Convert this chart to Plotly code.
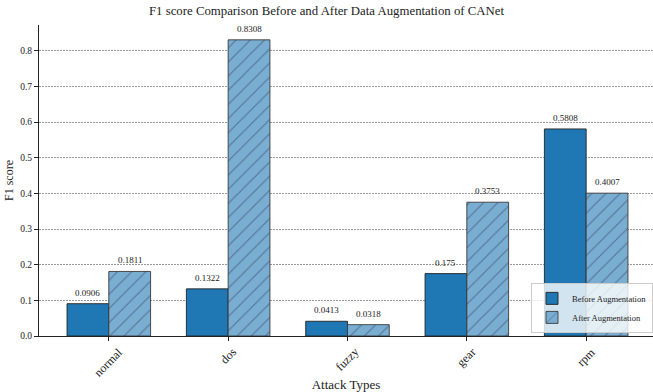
import plotly.graph_objects as go

attack_types = ["normal", "dos", "fuzzy", "gear", "rpm"]
f1_before = [0.0906, 0.1322, 0.0413, 0.175, 0.5808]
f1_after = [0.1811, 0.8308, 0.0318, 0.3753, 0.4007]

FONT = "Liberation Serif, Times New Roman, serif"
x_idx = list(range(len(attack_types)))
w = 0.35
x_before = [i - w / 2 for i in x_idx]
x_after = [i + w / 2 for i in x_idx]

fig = go.Figure()
fig.add_trace(go.Bar(
    x=x_before, y=f1_before, width=w,
    name="Before Augmentation",
    marker=dict(color="#1f77b4", line=dict(color="#222222", width=0.9)),
))
fig.add_trace(go.Bar(
    x=x_after, y=f1_after, width=w,
    name="After Augmentation",
    marker=dict(color="#79add2", line=dict(color="#3a3a3a", width=0.9),
                pattern=dict(shape="/", fgcolor="#2a3550", size=10, solidity=0.1)),
))

# value labels above each bar
annotations = []
for xs, ys in ((x_before, f1_before), (x_after, f1_after)):
    for xv, yv in zip(xs, ys):
        annotations.append(dict(
            x=xv, y=yv, xref="x", yref="y", text=str(yv), showarrow=False,
            yanchor="bottom", yshift=4, font=dict(family=FONT, size=9, color="#222"),
        ))

# rotated category labels, centred under each tick
for i, name in zip(x_idx, attack_types):
    annotations.append(dict(
        x=i, y=0, xref="x", yref="paper", text=name, showarrow=False,
        textangle=-45, xanchor="center", yanchor="top", yshift=-6,
        font=dict(family=FONT, size=12, color="#222"),
    ))

fig.update_layout(
    width=653, height=392,
    margin=dict(l=39, r=0, t=25, b=56),
    paper_bgcolor="white", plot_bgcolor="white",
    font=dict(family=FONT, size=10, color="#222"),
    title=dict(text="F1 score Comparison Before and After Data Augmentation of CANet",
               x=0.5, xanchor="center", y=0.985, yanchor="top",
               font=dict(family=FONT, size=12.8, color="#222")),
    barmode="overlay",
    showlegend=True,
    legend=dict(x=1.0, y=0.01, xanchor="right", yanchor="bottom",
                bgcolor="rgba(255,255,255,0.8)", bordercolor="#cccccc", borderwidth=1,
                font=dict(family=FONT, size=8.5), tracegroupgap=0),
    annotations=annotations,
)
fig.update_xaxes(
    range=[-0.585, 4.56], tickmode="array", tickvals=x_idx, ticktext=["" for _ in x_idx],
    ticks="outside", ticklen=4, tickcolor="#222",
    showline=True, linecolor="#222", linewidth=1, showgrid=False, zeroline=False,
    title=dict(text="Attack Types", font=dict(family=FONT, size=13), standoff=38),
)
fig.update_yaxes(
    range=[0, 0.8724], tickmode="array", tickvals=[0, 0.1, 0.2, 0.3, 0.4, 0.5, 0.6, 0.7, 0.8],
    ticktext=["0.0", "0.1", "0.2", "0.3", "0.4", "0.5", "0.6", "0.7", "0.8"],
    ticks="outside", ticklen=4, tickcolor="#222",
    showline=True, linecolor="#222", linewidth=1,
    showgrid=True, gridcolor="#999999", griddash="2px,1px", gridwidth=0.7, zeroline=False,
    tickfont=dict(family=FONT, size=9.5),
    title=dict(text="F1 score", font=dict(family=FONT, size=12), standoff=4),
)

fig.write_html("out.html")
